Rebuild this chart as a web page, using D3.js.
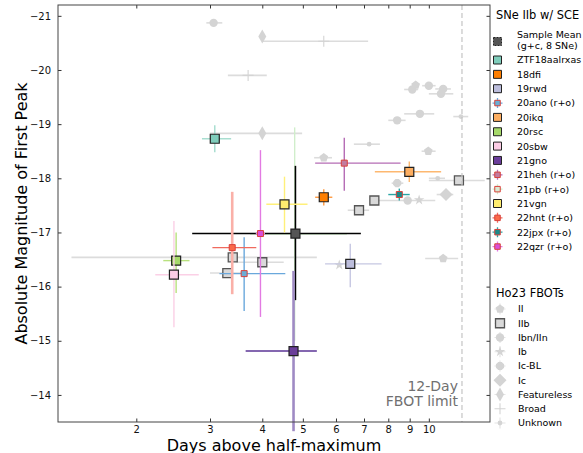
<!DOCTYPE html>
<html>
<head>
<meta charset="utf-8">
<script src="https://cdn.jsdelivr.net/npm/d3@7"></script>
<style>
  body { margin: 0; background: #fff; }
  svg { font-family: "DejaVu Sans", sans-serif; }
</style>
</head>
<body>
<script>
// ---- data ----
// SNe IIb with shock-cooling emission (legend order)
var sceNames  = ["Sample Mean", "ZTF18aalrxas", "18dfi", "19rwd", "20ano (r+o)", "20ikq", "20rsc", "20sbw",
                 "21gno", "21heh (r+o)", "21pb (r+o)", "21vgn", "22hnt (r+o)", "22jpx (r+o)", "22qzr (r+o)"];
var sceDays   = [4.80, 3.08, 5.61, 6.49, 3.62, 8.98, 2.49, 2.46, 4.75, 6.28, 4.78, 4.52, 3.39, 8.50, 3.96];
var sceDaysLo = [2.72, 2.87, 5.35, 5.65, 3.16, 7.43, 2.32, 2.22, 3.65, 5.35, 3.74, 4.09, 3.04, 8.00, 3.86];
var sceDaysHi = [6.88, 3.37, 5.88, 7.71, 4.54, 10.7, 2.68, 2.82, 5.40, 8.56, 6.37, 5.13, 3.87, 9.00, 4.06];
var sceMag    = [-16.98, -18.73, -17.65, -16.42, -16.24, -18.12, -16.48, -16.22, -14.81, -18.28, -16.97, -17.52, -16.72, -17.70, -16.98];
var sceMagLo  = [-18.23, -18.98, -17.80, -16.79, -16.91, -18.31, -17.00, -17.21, -16.29, -18.75, -18.94, -18.03, -17.75, -17.81, -18.52];
var sceMagHi  = [-15.75, -18.48, -17.50, -15.99, -15.55, -17.93, -15.88, -15.25, -13.33, -17.77, -15.00, -17.00, -15.86, -17.59, -15.44];

// Ho23 FBOTs
var fbotTypes  = ["II", "IIb", "Ibn/IIn", "Ib", "Ic-BL", "Ic", "Featureless", "Broad", "Unknown"];
var fbotType   = ["Ibn/IIn", "Featureless", "Broad", "Broad", "Featureless", "Ibn/IIn", "II", "Ibn/IIn", "Ibn/IIn",
                  "Ibn/IIn", "Ibn/IIn", "Ibn/IIn", "Unknown", "Unknown", "II", "II", "Unknown", "Ic-BL",
                  "Ibn/IIn", "Ib", "Ic", "Ib", "II",
                  "IIb", "IIb", "IIb", "IIb", "IIb", "IIb"];
var fbotDays   = [3.06, 4.00, 5.61, 3.70, 4.00, 9.13, 9.30, 10.0, 10.82, 10.69, 9.52, 8.40, 11.93, 7.20, 5.61, 9.97, 10.5, 8.40,
                  8.90, 9.48, 10.99, 6.11, 10.82,
                  3.30, 3.40, 4.00, 6.81, 7.41, 11.8];
var fbotDaysLo = [2.94, 4.00, 4.00, 3.31, 3.00, 8.73, 9.30, 9.64, 10.36, 10.0, 8.73, 8.00, 11.44, 6.62, 5.32, 9.61, 10.0, 8.15,
                  7.57, 9.48, 10.44, 6.11, 9.80,
                  3.00, 1.40, 3.47, 6.40, 7.41, 10.0];
var fbotDaysHi = [3.21, 4.00, 7.16, 4.10, 4.98, 9.43, 9.30, 10.38, 11.29, 11.44, 10.3, 8.80, 12.42, 7.64, 5.87, 10.38, 10.93, 8.69,
                  10.36, 9.48, 11.44, 6.11, 11.75,
                  3.60, 5.40, 4.50, 7.20, 7.41, 13.6];
var fbotMag    = [-20.87, -20.62, -20.53, -19.90, -18.83, -19.64, -19.72, -19.71, -19.65, -19.56, -19.19, -19.07, -19.14, -18.63,
                  -18.38, -18.50, -18.00, -17.91, -17.59, -17.60, -17.70, -16.40, -16.52,
                  -16.25, -16.54, -16.45, -17.41, -17.59, -17.96];

var xTicks = [2, 3, 4, 5, 6, 7, 8, 9, 10];
var yTicks = [-21, -20, -19, -18, -17, -16, -15, -14];
var fbotLimit = 12;

// ---- styles ----
var sceFill = {
  "Sample Mean": "#555555", "ZTF18aalrxas": "#7fcdbb", "18dfi": "#ff7f00", "19rwd": "#bcbddc",
  "20ano (r+o)": "#6baed6", "20ikq": "#fdae61", "20rsc": "#a6d96a", "20sbw": "#fccde5",
  "21gno": "#6a3d9a", "21heh (r+o)": "#c27ba0", "21pb (r+o)": "#d9ead3", "21vgn": "#ffed6f",
  "22hnt (r+o)": "#fb6a4a", "22jpx (r+o)": "#1b8a8a", "22qzr (r+o)": "#d94fd9"
};
var sceLineX = {
  "Sample Mean": "#000", "ZTF18aalrxas": "#a3dccd", "18dfi": "#ff9a40", "19rwd": "#c6c7e2",
  "20ano (r+o)": "#6aa8dc", "20ikq": "#fdb870", "20rsc": "#b9e17f", "20sbw": "#fbd0e6",
  "21gno": "#5b3596", "21heh (r+o)": "#b56cb5", "21pb (r+o)": "#d0eecb", "21vgn": "#fff07a",
  "22hnt (r+o)": "#f06a5e", "22jpx (r+o)": "#2aa5a5", "22qzr (r+o)": "#e27ae2"
};
var sceLineY = Object.assign({}, sceLineX, {"21gno": "#9f8ac4", "22hnt (r+o)": "#fab0a8"});
var thickY = {"21gno": 2.6, "22hnt (r+o)": 2.6, "Sample Mean": 1.6};
var drawOrder = ["21pb (r+o)", "Sample Mean", "ZTF18aalrxas", "18dfi", "19rwd", "20ano (r+o)", "20ikq", "20rsc",
                 "20sbw", "21gno", "21heh (r+o)", "21vgn", "22hnt (r+o)", "22jpx (r+o)", "22qzr (r+o)"];

var grayMark = "#d4d4d4", grayLine = "#dcdcdc";

// ---- layout ----
var W = 583, H = 453;
var margin = {top: 5, right: 93, bottom: 31, left: 58},
    width = W - margin.left - margin.right,
    height = H - margin.top - margin.bottom;

var x = d3.scaleLog().domain([1.3, 14]).range([0, width]);
var y = d3.scaleLinear().domain([-21.2, -13.5]).range([0, height]);

var svg = d3.select("body").append("svg")
    .attr("width", W)
    .attr("height", H);

var g = svg.append("g")
    .attr("transform", "translate(" + margin.left + "," + margin.top + ")");

// ---- marker shapes ----
function poly(n, r, rot) {
  var pts = d3.range(n).map(function(i) {
    var a = rot + i * 2 * Math.PI / n;
    return [(r * Math.cos(a)).toFixed(2), (r * Math.sin(a)).toFixed(2)];
  });
  return "M" + pts.join("L") + "Z";
}
function square(s) { return "M" + (-s / 2) + "," + (-s / 2) + "h" + s + "v" + s + "h" + (-s) + "Z"; }
function diamond(w, h) { return "M0," + (-h) + "L" + w + ",0L0," + h + "L" + (-w) + ",0Z"; }
function plus(s) { return "M" + (-s) + ",0H" + s + "M0," + (-s) + "V" + s; }

var fbotShape = {
  "II": function() { return poly(5, 4.6, -Math.PI / 2); },
  "IIb": function() { return square(9); },
  "Ibn/IIn": function() { return d3.symbol(d3.symbolCircle, 56)(); },
  "Ib": function() { return d3.symbol(d3.symbolStar, 34)(); },
  "Ic-BL": function() { return poly(8, 4.4, Math.PI / 8); },
  "Ic": function() { return diamond(6.5, 6.5); },
  "Featureless": function() { return diamond(4, 7); },
  "Broad": function() { return plus(5.5); },
  "Unknown": function() { return d3.symbol(d3.symbolCircle, 18)(); }
};

function styleFbot(sel, t) {
  if (t === "Broad") {
    sel.attr("fill", "none").attr("stroke", grayMark).attr("stroke-width", 1.1);
  } else if (t === "IIb") {
    sel.attr("fill", "#d9d9d9").attr("stroke", "#555").attr("stroke-width", 1.3);
  } else {
    sel.attr("fill", grayMark).attr("stroke", "none");
  }
}

// ---- Ho23 FBOTs ----
var fbots = fbotType.map(function(t, i) {
  return {type: t, days: fbotDays[i], lo: fbotDaysLo[i], hi: fbotDaysHi[i], mag: fbotMag[i]};
});

g.selectAll(".fbot-err")
    .data(fbots.filter(function(d) { return d.hi > d.lo; }))
  .enter().append("line")
    .attr("class", "fbot-err")
    .attr("x1", function(d) { return x(d.lo); })
    .attr("x2", function(d) { return x(d.hi); })
    .attr("y1", function(d) { return y(d.mag); })
    .attr("y2", function(d) { return y(d.mag); })
    .attr("stroke", grayLine)
    .attr("stroke-width", 1.6);

g.selectAll(".fbot")
    .data(fbots.filter(function(d) { return d.type !== "IIb"; }))
  .enter().append("path")
    .attr("class", "fbot")
    .attr("transform", function(d) { return "translate(" + x(d.days) + "," + y(d.mag) + ")"; })
    .attr("d", function(d) { return fbotShape[d.type](); })
    .each(function(d) { styleFbot(d3.select(this), d.type); });

g.selectAll(".fbot-iib")
    .data(fbots.filter(function(d) { return d.type === "IIb"; }))
  .enter().append("path")
    .attr("class", "fbot-iib")
    .attr("transform", function(d) { return "translate(" + x(d.days) + "," + y(d.mag) + ")"; })
    .attr("d", function(d) { return fbotShape[d.type](); })
    .each(function(d) { styleFbot(d3.select(this), d.type); });

// 12-day FBOT limit
g.append("line")
    .attr("x1", x(fbotLimit)).attr("x2", x(fbotLimit))
    .attr("y1", 0).attr("y2", height)
    .attr("stroke", "#c4c4c4")
    .attr("stroke-width", 1.2)
    .attr("stroke-dasharray", "5,3");

g.append("text")
    .attr("x", x(fbotLimit) - 4)
    .attr("y", height - 31.5)
    .attr("text-anchor", "end")
    .attr("fill", "#707070")
    .style("font-size", "14px")
    .text("12-Day");
g.append("text")
    .attr("x", x(fbotLimit) - 4)
    .attr("y", height - 16.5)
    .attr("text-anchor", "end")
    .attr("fill", "#707070")
    .style("font-size", "14px")
    .text("FBOT limit");

// ---- SNe IIb w/ SCE ----
var sce = sceNames.map(function(n, i) {
  return {name: n, days: sceDays[i], lo: sceDaysLo[i], hi: sceDaysHi[i],
          mag: sceMag[i], magLo: sceMagLo[i], magHi: sceMagHi[i], ro: n.indexOf("(r+o)") > 0};
});
var sceByName = {};
sce.forEach(function(d) { sceByName[d.name] = d; });

var pts = g.selectAll(".sce")
    .data(drawOrder.map(function(n) { return sceByName[n]; }))
  .enter().append("g")
    .attr("class", "sce");

pts.append("line")
    .attr("x1", function(d) { return x(d.lo); })
    .attr("x2", function(d) { return x(d.hi); })
    .attr("y1", function(d) { return y(d.mag); })
    .attr("y2", function(d) { return y(d.mag); })
    .attr("stroke", function(d) { return sceLineX[d.name]; })
    .attr("stroke-width", function(d) { return d.name === "Sample Mean" ? 1.6 : 1.4; });

pts.append("line")
    .attr("x1", function(d) { return x(d.days); })
    .attr("x2", function(d) { return x(d.days); })
    .attr("y1", function(d) { return y(d.magLo); })
    .attr("y2", function(d) { return y(d.magHi); })
    .attr("stroke", function(d) { return sceLineY[d.name]; })
    .attr("stroke-width", function(d) { return thickY[d.name] || 1.4; });

pts.append("path")
    .attr("transform", function(d) { return "translate(" + x(d.days) + "," + y(d.mag) + ")"; })
    .attr("d", function(d) { return square(d.ro ? 6 : 9); })
    .attr("fill", function(d) { return sceFill[d.name]; })
    .attr("stroke", function(d) { return d.ro ? "#d8403a" : "#222"; })
    .attr("stroke-width", function(d) { return d.ro ? 1 : 1.2; });

// ---- axes ----
var xAxis = d3.axisBottom(x).tickValues(xTicks).tickFormat(d3.format("d"))
    .tickSizeInner(-3.5).tickSizeOuter(0).tickPadding(3.5);
var yAxis = d3.axisLeft(y).tickValues(yTicks).tickFormat(d3.format("d"))
    .tickSizeInner(-3.5).tickSizeOuter(0).tickPadding(7);

g.append("g")
    .attr("class", "x axis")
    .attr("transform", "translate(0," + height + ")")
    .call(xAxis);
g.append("g")
    .attr("class", "x axis")
    .call(d3.axisTop(x).tickValues(xTicks).tickFormat("").tickSizeInner(-3.5).tickSizeOuter(0));
g.append("g")
    .attr("class", "y axis")
    .call(yAxis);
g.append("g")
    .attr("class", "y axis")
    .attr("transform", "translate(" + width + ",0)")
    .call(d3.axisRight(y).tickValues(yTicks).tickFormat("").tickSizeInner(-3.5).tickSizeOuter(0));

g.selectAll(".axis .domain").remove();
g.selectAll(".axis line").attr("stroke", "#333");
g.selectAll(".axis text").attr("fill", "#111").style("font-size", "10px").style("font-family", "DejaVu Sans");

g.append("rect")
    .attr("width", width)
    .attr("height", height)
    .attr("fill", "none")
    .attr("stroke", "#444")
    .attr("stroke-width", 1);

svg.append("text")
    .attr("x", margin.left + width / 2)
    .attr("y", 450.5)
    .attr("text-anchor", "middle")
    .style("font-size", "16px")
    .text("Days above half-maximum");

svg.append("text")
    .attr("transform", "translate(27," + (margin.top + height / 2) + ") rotate(-90)")
    .attr("text-anchor", "middle")
    .style("font-size", "16px")
    .text("Absolute Magnitude of First Peak");

// ---- legends ----
var lg = svg.append("g").style("font-size", "9.5px");
var lx = 497.5, tx = 517;

lg.append("text").attr("x", 496).attr("y", 19).style("font-size", "11.4px").text("SNe IIb w/ SCE");

function sceRowY(i) { return i === 0 ? 41.5 : 60 + (i - 1) * 14.35; }

sce.forEach(function(d, i) {
  var row = lg.append("g").attr("transform", "translate(" + lx + "," + sceRowY(i) + ")");
  if (d.ro) {
    row.append("path").attr("d", plus(5)).attr("stroke", sceLineX[d.name]).attr("stroke-width", 1.3);
  }
  row.append("path")
      .attr("d", square(d.ro ? 5.5 : 8))
      .attr("fill", sceFill[d.name])
      .attr("stroke", d.ro ? "#d8403a" : "#222")
      .attr("stroke-width", 1)
      .attr("stroke-dasharray", d.name === "Sample Mean" ? "2,1" : null);
  if (i === 0) {
    lg.append("text").attr("x", tx).attr("y", 37.8).text("Sample Mean");
    lg.append("text").attr("x", tx).attr("y", 48.8).text("(g+c, 8 SNe)");
  } else {
    lg.append("text").attr("x", tx).attr("y", sceRowY(i) + 3.4).text(d.name);
  }
});

lg.append("text").attr("x", 496).attr("y", 297).style("font-size", "11.4px").text("Ho23 FBOTs");

fbotTypes.forEach(function(t, i) {
  var yy = 309 + i * 14.25;
  var row = lg.append("g").attr("transform", "translate(500," + yy + ")");
  if (t !== "Broad") {
    row.append("path").attr("d", plus(5.5)).attr("stroke", "#e4e4e4").attr("stroke-width", 1.2);
  }
  var m = row.append("path").attr("d", fbotShape[t]());
  styleFbot(m, t);
  lg.append("text").attr("x", 518).attr("y", yy + 3.4).text(t);
});
</script>
</body>
</html>
